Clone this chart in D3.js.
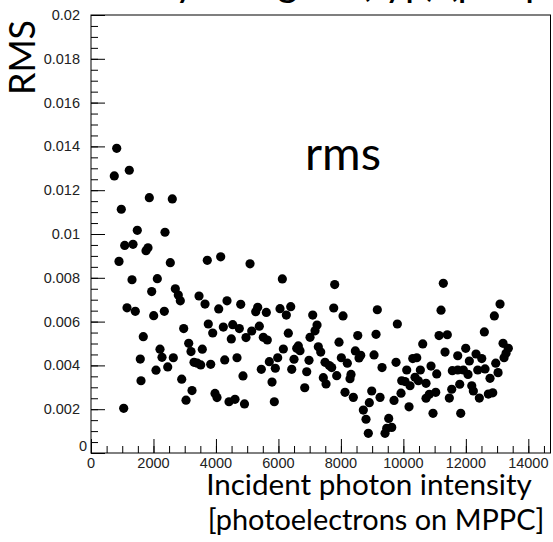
<!DOCTYPE html>
<html><head><meta charset="utf-8">
<script src="https://cdnjs.cloudflare.com/ajax/libs/d3/7.8.5/d3.min.js"></script>
<style>body{margin:0;background:#fff}svg{display:block}</style>
</head><body>
<svg id="c" width="553" height="542"></svg>
<script>
const xValues = [823,746,1226,1867,2603,970,1482,2369,1079,1345,1761,1825,896,2539,3723,4152,1313,2123,1943,2699,2795,2859,3458,3650,4354,4793,4088,1153,1418,2007,2347,2968,3755,3896,4236,4537,4748,4492,4962,1674,3128,3202,3563,2209,2273,2635,1578,3298,3403,3512,3832,4281,4674,2081,2456,4866,1601,2904,3234,3042,3970,4034,4418,4610,4914,1047,
5091,6125,7802,5337,5273,5612,6051,6394,6253,7770,8068,9166,7098,9807,5388,5145,6317,7236,7172,7012,5516,5644,8539,9125,7940,6157,6637,6691,6586,7277,7354,8462,8635,8580,9061,8014,8206,5977,5709,5901,6499,6979,7492,7629,7706,5452,6426,6906,9317,9765,7866,8324,8292,7437,7524,5795,6842,8132,8398,8987,9253,9701,5869,8910,8718,8804,9531,8878,9627,9467,9413,10181,9925,
11279,13095,11206,12912,12592,11142,11407,10620,13191,13360,13287,13223,11996,11334,12326,12509,10300,10428,11740,12112,12957,10885,10107,10543,11567,11740,11920,12070,12381,12614,13031,11068,10373,10479,9947,10053,10213,10725,12774,11804,12189,12240,11548,11036,10831,10725,12720,12861,11471,12432,10949,11836];
const rmsValues = [0.01391,0.01265,0.01291,0.01166,0.0116,0.01113,0.01017,0.01008,0.00948,0.00953,0.00924,0.00937,0.00875,0.00869,0.0088,0.00896,0.00791,0.00796,0.00737,0.0075,0.00721,0.00695,0.00717,0.0068,0.00695,0.00679,0.00658,0.00663,0.00647,0.00627,0.00647,0.00568,0.00589,0.00548,0.00575,0.00586,0.00568,0.00521,0.00527,0.00531,0.00501,0.00463,0.00474,0.00474,0.00437,0.00435,0.00429,0.00414,0.0041,0.00402,0.00405,0.00425,0.00435,0.00378,0.00393,0.00352,0.0033,0.00337,0.00285,0.00241,0.00272,0.00253,0.00234,0.00245,0.00224,0.00204,
0.00864,0.00795,0.00769,0.00665,0.00645,0.00642,0.00659,0.00668,0.0063,0.00662,0.00626,0.00654,0.0063,0.00589,0.00579,0.00557,0.00547,0.00584,0.00558,0.00528,0.00528,0.00516,0.00536,0.00542,0.00506,0.00475,0.00489,0.00467,0.00478,0.00485,0.00461,0.00466,0.00446,0.00434,0.00448,0.00435,0.0041,0.00435,0.00417,0.00387,0.00428,0.00423,0.00414,0.00399,0.0039,0.00382,0.00382,0.00371,0.0039,0.00414,0.00353,0.00359,0.00339,0.00344,0.00315,0.00324,0.00298,0.00277,0.00254,0.00283,0.00254,0.0024,0.00234,0.0023,0.00196,0.00154,0.00158,0.0009,0.00117,0.00113,0.0009,0.00211,0.00273,
0.00775,0.0068,0.00652,0.00626,0.00553,0.00536,0.0054,0.00498,0.00501,0.00478,0.00455,0.00435,0.00478,0.00461,0.00452,0.00431,0.00431,0.00435,0.00444,0.0042,0.0041,0.00397,0.00379,0.00379,0.00376,0.00379,0.00379,0.00359,0.00379,0.00384,0.00367,0.00361,0.00346,0.0033,0.0033,0.00326,0.00307,0.00318,0.00341,0.00314,0.00307,0.00283,0.00291,0.00277,0.00268,0.0025,0.00269,0.00275,0.00251,0.00251,0.00181,0.00181];
const xTicks = [0,2000,4000,6000,8000,10000,12000,14000];
const yTicks = [0,0.002,0.004,0.006,0.008,0.01,0.012,0.014,0.016,0.018,0.02];
const yTickLabels = ["0","0.002","0.004","0.006","0.008","0.01","0.012","0.014","0.016","0.018","0.02"];
const titleText = "Linearity of signal (typ) (per pixel)";
const xLabelLines = ["Incident photon intensity","[photoelectrons on MPPC]"];
const yLabel = "RMS";
const graphLabel = "rms";

const svg = d3.select("#c");
const L=91,R=550.5,T=15,B=453;
const x = d3.scaleLinear().domain([0,14710]).range([L,R]);
const y = d3.scaleLinear().domain([0,0.02]).range([B,T]);

// title (clipped at top)
svg.append("text").attr("x",330).attr("y",-4).attr("text-anchor","middle")
  .attr("font-family","Lato, sans-serif").attr("font-size",40).attr("fill","#000").text(titleText);

// frame
svg.append("rect").attr("x",L).attr("y",T).attr("width",R-L).attr("height",B-T)
  .attr("fill","none").attr("stroke","#000").attr("stroke-width",1);

// x axis
const xMinor = d3.range(0,14710,500);
const gx = svg.append("g").attr("transform",`translate(0,${B})`);
gx.call(d3.axisTop(x).tickValues(xMinor).tickSize(7).tickFormat(""))
  .call(g=>g.select(".domain").remove());
gx.append("g").call(d3.axisTop(x).tickValues(xTicks).tickSize(14).tickFormat(""))
  .call(g=>g.select(".domain").remove());
gx.selectAll("line").attr("stroke","#000");
svg.append("g").selectAll("text").data(xTicks).join("text")
  .attr("x",d=>x(d)).attr("y",B+15).attr("text-anchor","middle")
  .attr("font-family","Liberation Sans, Arial, sans-serif").attr("font-size",14.5).attr("fill","#222")
  .text(d=>d===0?"0":d3.format("d")(d));

// y axis
const yMinor = d3.range(0,0.02001,0.0005);
const gy = svg.append("g").attr("transform",`translate(${L},0)`);
gy.call(d3.axisRight(y).tickValues(yMinor).tickSize(7).tickFormat(""))
  .call(g=>g.select(".domain").remove());
gy.append("g").call(d3.axisRight(y).tickValues(yTicks).tickSize(14).tickFormat(""))
  .call(g=>g.select(".domain").remove());
gy.selectAll("line").attr("stroke","#000");
svg.append("g").selectAll("text").data(yTicks).join("text")
  .attr("x",(d,i)=>i===0?87:80).attr("y",(d,i)=>i===0?y(d)-2:y(d)+5).attr("text-anchor","end")
  .attr("font-family","Liberation Sans, Arial, sans-serif").attr("font-size",14.5).attr("fill","#222")
  .text((d,i)=>yTickLabels[i]);

// points
svg.append("g").selectAll("circle").data(xValues.map((v,i)=>[v,rmsValues[i]])).join("circle")
  .attr("cx",d=>x(d[0])).attr("cy",d=>y(d[1])).attr("r",4.6).attr("fill","#000");

// labels
function fit(sel,w){const n=sel.node();const cur=n.getComputedTextLength();const fs=+sel.attr("font-size");sel.attr("font-size",fs*w/cur);}
const xl1 = svg.append("text").attr("x",369).attr("y",495).attr("text-anchor","middle")
  .attr("font-family","Lato, sans-serif").attr("font-size",34).attr("fill","#000").text(xLabelLines[0]);
fit(xl1,326);
const xl2 = svg.append("text").attr("x",376).attr("y",530).attr("text-anchor","middle")
  .attr("font-family","Lato, sans-serif").attr("font-size",34).attr("fill","#000").text(xLabelLines[1]);
fit(xl2,337);
const yl = svg.append("text").attr("transform","translate(35,57.5) rotate(-90)").attr("text-anchor","middle")
  .attr("font-family","Lato, sans-serif").attr("font-size",34).attr("fill","#000").text(yLabel);
fit(yl,75);
const rl = svg.append("text").attr("x",343).attr("y",170).attr("text-anchor","middle")
  .attr("font-family","Lato, sans-serif").attr("font-size",44).attr("fill","#000").text(graphLabel);
fit(rl,76);
</script>
</body></html>
